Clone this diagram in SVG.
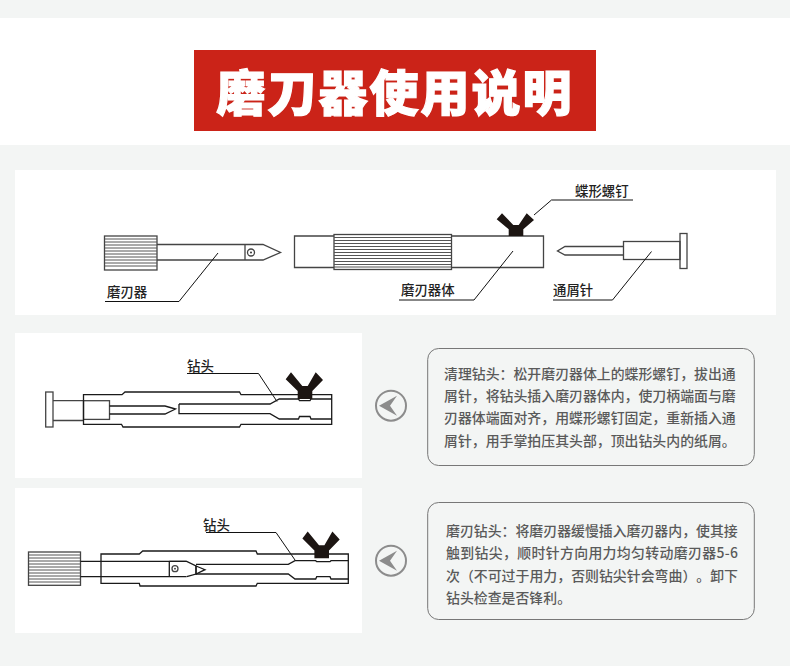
<svg xmlns="http://www.w3.org/2000/svg" width="790" height="666" viewBox="0 0 790 666">
<style>
text{text-spacing-trim:space-all;font-feature-settings:"palt" 0}
.d{fill:none;stroke:#1a1a1a;stroke-width:1.3}
.g{fill:none;stroke:#444;stroke-width:1.3}
.k{fill:none;stroke:#555;stroke-width:1}
.l{fill:none;stroke:#111;stroke-width:1}
.lab{font-family:"Noto Sans CJK SC","Liberation Sans",sans-serif;font-size:13.400px;font-weight:500;fill:#222}
.body{font-family:"Noto Sans CJK SC","Liberation Sans",sans-serif;font-size:13.900px;font-weight:500;fill:#5a5a5a}
.box{fill:none;stroke:#777;stroke-width:1}
</style>
<defs>
<polygon id="wing" fill="#1c1512" points="-19.3,-16.7 -14,-22.7 -2.7,-11 2.7,-11 10.7,-22.7 18,-16 7.3,-6.7 7.3,0 -7.3,0 -7.3,-6.7"/>
<g id="arrow"><circle r="15" fill="#f3f5f4" stroke="#8c8c8c" stroke-width="2"/><polygon points="-12,0 6,-10 -1,0 6,10" fill="#8c8c8c"/></g>
</defs>
<rect width="790" height="666" fill="#f3f5f4"/>
<rect x="0" y="18" width="790" height="127" fill="#fff"/>
<g id="title"><rect x="194" y="50" width="402" height="81" fill="#cb2318"/>
<text x="395" y="110.500" text-anchor="middle" font-family="Noto Sans CJK SC,Liberation Sans,sans-serif" font-size="49" font-weight="900" letter-spacing="2" fill="#fff" stroke="#fff" stroke-width="1.200">磨刀器使用说明</text></g>
<rect x="15" y="170" width="761" height="145" fill="#fff"/>
<rect x="15" y="333" width="347" height="145" fill="#fff"/>
<rect x="15" y="488" width="347" height="145" fill="#fff"/>

<g id="sharpener">
<rect class="g" x="104.500" y="236" width="52.500" height="34"/>
<path class="k" d="M105 239H157M105 242H157M105 245H157M105 248H157M105 251H157M105 254H157M105 257H157M105 260H157M105 263H157M105 266H157"/>
<path class="g" d="M157 244.500H263L280.500 252.500L263 260H157M245 244.500V260"/>
<circle class="g" cx="251" cy="252.500" r="3.500"/><circle cx="251" cy="252.500" r="1" fill="#333"/>
<text class="lab" x="107" y="297">磨刃器</text>
</g>
<g id="body">
<path class="g" d="M334 236H294.500V267.500H334"/>
<rect class="g" x="334" y="234.500" width="117.500" height="35"/>
<path class="k" d="M334 237.500H451M334 240.500H451M334 243.500H451M334 246.500H451M334 249.500H451M334 252.500H451M334 255.500H451M334 258.500H451M334 261.500H451M334 264.500H451M334 267H451"/>
<path class="g" d="M451.500 236H543.500V267.500H451.500"/>
<text class="lab" x="401" y="295">磨刃器体</text>
</g>
<g id="screw"><use href="#wing" x="516" y="236"/><text class="lab" x="575" y="196">蝶形螺钉</text></g>
<g id="needle">
<path class="g" d="M623.500 246.500H565L557.500 251L565 255H623.500"/>
<rect class="g" x="623.500" y="241.500" width="56.500" height="18"/>
<rect class="g" x="680" y="233.500" width="7" height="35"/>
<text class="lab" x="553" y="295">通屑针</text>
</g>

<g id="connectors">
<path class="l" d="M218 253L179 301.500H105"/>
<path class="l" d="M534 215L551.500 200H633"/>
<path class="l" d="M513 251L474 300H399"/>
<path class="l" d="M651.500 251.500L612.500 300H553"/>
<path class="l" d="M277 401.500L258.500 373.500H187"/>
<path class="l" d="M295 560L276 532.500H206"/>
</g>

<g id="clean-drawing">
<rect class="g" x="45.700" y="392" width="7.300" height="35"/>
<path class="g" d="M53 400.700H83.500M53 420.500H83.500"/>
<rect class="g" x="83.500" y="400.700" width="26" height="18.700"/>
<path class="d" d="M109.500 406H165L175.500 409L165 414H109.500"/>
<path class="d" d="M83.500 394.700H122L125 392H239.500L241 394.700H331.700V424.300H241L239.500 427H123L121.500 424.300H83.500Z"/>
<path class="d" d="M179 404V413.700H270L279.300 419H298.500L299.500 416.500H310L311 419H331.700M179 404H270L279.300 399H298.500L299.500 400.700H310L311 399H331.700"/>
<use href="#wing" transform="translate(305,399) scale(1,1.18)"/>
<text class="lab" x="187" y="370.500">钻头</text>
</g>
<g id="sharpen-drawing">
<rect class="g" x="28.500" y="552" width="52" height="33.300"/>
<path class="k" d="M29 555H80M29 558H80M29 561H80M29 564H80M29 567H80M29 570H80M29 573H80M29 576H80M29 579H80M29 582H80"/>
<path class="d" d="M80.500 561.300H186.500M80.500 576.700H186.500"/>
<path class="d" d="M101 554H139.300L142.700 551H256L257.300 554H348.300V583.300H257.300L256 586H140L139.300 583.300H101Z"/>
<path class="d" d="M169.300 561.300V576.700M169.300 561.300H186.700L196 566V574L186.700 576.700"/>
<path class="d" d="M196 566L205 569.700L196 574Z"/>
<circle class="g" cx="175" cy="568.700" r="3"/><circle cx="175" cy="568.700" r="0.900" fill="#333"/>
<path class="d" d="M196 564.300H288.300L295 560.700H315.700L316.700 561.700H330L331 560.700H348.300M196 574H288.300L295 579H315.700L316.700 576.700H330L331 579H348.300"/>
<use href="#wing" transform="translate(321.700,558.300) scale(1,1.18)"/>
<text class="lab" x="203" y="529.500">钻头</text>
</g>

<g id="clean-note">
<use href="#arrow" x="391" y="405.700"/>
<rect class="box" x="427.700" y="348.500" width="326.600" height="117" rx="11"/>
<text class="body" x="444" y="378.700">清理钻头：松开磨刃器体上的蝶形螺钉，拔出通</text>
<text class="body" x="444" y="401">屑针，将钻头插入磨刃器体内，使刀柄端面与磨</text>
<text class="body" x="444" y="423.200">刃器体端面对齐，用蝶形螺钉固定，重新插入通</text>
<text class="body" x="444" y="445.500">屑针，用手掌拍压其头部，顶出钻头内的纸屑。</text>
</g>
<g id="sharpen-note">
<use href="#arrow" x="391" y="560.700"/>
<rect class="box" x="427.700" y="502.500" width="326.600" height="117" rx="11"/>
<text class="body" x="446" y="535.500">磨刃钻头：将磨刃器缓慢插入磨刃器内，使其接</text>
<text class="body" x="446" y="558" textLength="292" lengthAdjust="spacing">触到钻尖，顺时针方向用力均匀转动磨刃器5-6</text>
<text class="body" x="446" y="580.500" textLength="292" lengthAdjust="spacing">次（不可过于用力，否则钻尖针会弯曲）。卸下</text>
<text class="body" x="446" y="603">钻头检查是否锋利。</text>
</g>
</svg>
